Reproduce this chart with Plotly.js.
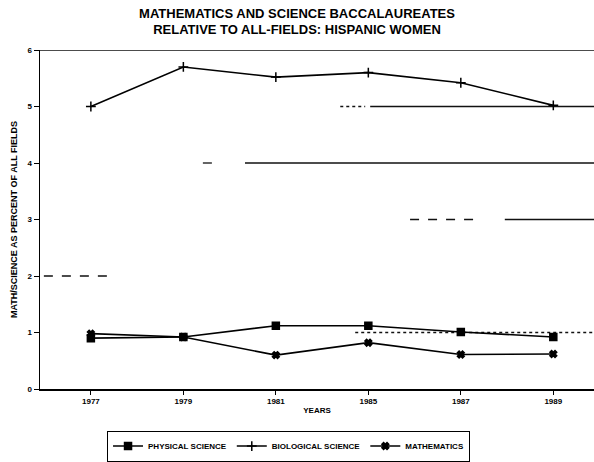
<!DOCTYPE html>
<html>
<head>
<meta charset="utf-8">
<script src="https://cdn.plot.ly/plotly-3.0.1.min.js"></script>
<style>html,body{margin:0;padding:0;background:#fff;}#chart{width:594px;height:462px;}</style>
</head>
<body>
<div id="chart"></div>
<script>
const years = ["1977", "1979", "1981", "1985", "1987", "1989"];
const physicalScience = [0.90, 0.92, 1.12, 1.12, 1.01, 0.92];
const biologicalScience = [5.00, 5.70, 5.52, 5.60, 5.42, 5.02];
const mathematics = [0.98, 0.92, 0.60, 0.82, 0.61, 0.62];
const yTicks = [0, 1, 2, 3, 4, 5, 6];

const FONT = "Liberation Sans Narrow, Arial Narrow, Liberation Sans, Arial, sans-serif";
const idx = years.map((_, i) => i);

function trace(name, vals, symbol, size) {
  return {
    type: "scatter", mode: "lines+markers", name: name,
    x: idx, y: vals,
    line: {color: "#000", width: 1.6},
    marker: {symbol: symbol, size: size, color: "#000", line: {color: "#000", width: 1.5}}
  };
}

const data = [
  trace("PHYSICAL SCIENCE", physicalScience, "square", 7),
  trace("BIOLOGICAL SCIENCE", biologicalScience, "cross-thin", 7),
  trace("MATHEMATICS", mathematics, "x", 6)
];

function seg(y, x0, x1, dash, w) {
  return {type: "line", xref: "paper", yref: "y", x0: x0, x1: x1, y0: y, y1: y,
          line: {color: "#111", width: w || 1.3, dash: dash || "solid"}, layer: "below"};
}

const shapes = [
  seg(6, 0, 1, "solid", 1.6),
  seg(5, 0.542, 0.587, "dot"), seg(5, 0.596, 1, "solid"),
  seg(4, 0.294, 0.316, "dash"), seg(4, 0.370, 1, "solid"),
  seg(3, 0.668, 0.794, "dash"), seg(3, 0.839, 1, "solid"),
  seg(2, 0.007, 0.126, "dash"),
  seg(1, 0.569, 1, "dot")
];

const layout = {
  width: 594, height: 462,
  margin: {l: 40, r: 0, t: 50, b: 61},
  paper_bgcolor: "#fff", plot_bgcolor: "#fff",
  font: {family: FONT, color: "#000", size: 8},
  title: {
    text: "<b>MATHEMATICS AND SCIENCE BACCALAUREATES<br>RELATIVE TO ALL-FIELDS: HISPANIC WOMEN</b>",
    font: {family: FONT, size: 13, color: "#000"},
    x: 0.5, xanchor: "center", xref: "container",
    y: 0.962, yanchor: "middle"
  },
  xaxis: {
    range: [-0.55, 5.44],
    tickmode: "array", tickvals: idx, ticktext: years,
    showgrid: false, zeroline: false,
    showline: true, linecolor: "#000", linewidth: 1.6,
    ticks: "outside", ticklen: 4, tickcolor: "#000",
    tickfont: {family: FONT, size: 8, weight: "bold"},
    title: {text: "<b>YEARS</b>", font: {family: FONT, size: 8}, standoff: 2}
  },
  yaxis: {
    range: [0, 6],
    tickmode: "array", tickvals: yTicks,
    showgrid: false, zeroline: false,
    showline: true, linecolor: "#000", linewidth: 1.4,
    ticks: "outside", ticklen: 5, tickcolor: "#000",
    tickfont: {family: FONT, size: 8, weight: "bold"},
    title: {text: "<b>MATH/SCIENCE AS PERCENT OF ALL FIELDS</b>", font: {family: FONT, size: 9}, standoff: 8}
  },
  shapes: shapes,
  showlegend: true,
  legend: {
    orientation: "h", x: 0.121, xanchor: "left", y: -0.1225, yanchor: "top",
    bordercolor: "#000", borderwidth: 1, bgcolor: "#fff",
    font: {family: FONT, size: 8, weight: "bold"},
    itemwidth: 30, tracegroupgap: 0
  }
};

Plotly.newPlot("chart", data, layout, {displayModeBar: false, staticPlot: true});
</script>
</body>
</html>
